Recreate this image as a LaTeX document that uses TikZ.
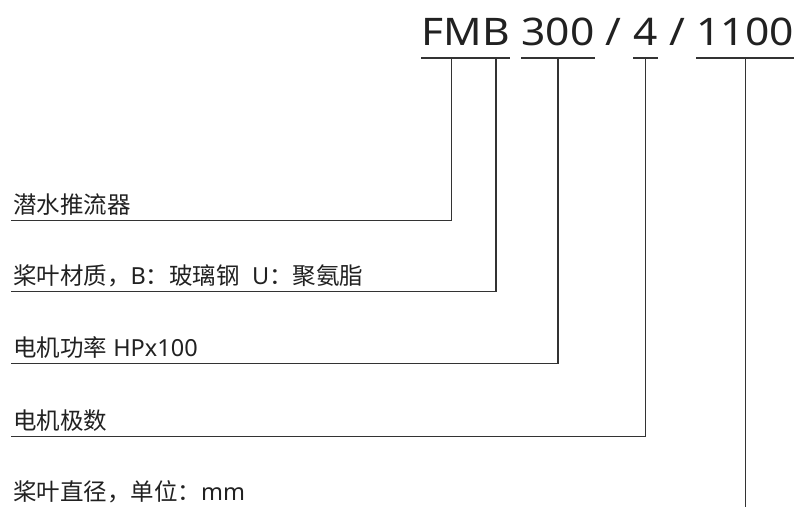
\documentclass[tikz,border=0pt]{standalone}
\usepackage{fontspec}
\setmainfont{Noto Sans}
\newfontfamily\cjk{Noto Sans CJK SC}
\newfontfamily\codefont[FakeStretch=1.12]{Noto Sans}
\usetikzlibrary{arrows.meta, calc, positioning}

\begin{document}
\begin{tikzpicture}[>=Stealth, x=1pt, y=-1pt,
        code/.style={inner sep=0pt, anchor=base west, text=black!87,
            font=\codefont\fontsize{38}{38}\selectfont},
        lbl/.style={inner sep=0pt, anchor=base west, text=black!87,
            font=\fontsize{23.5}{23.5}\selectfont},
        lead/.style={line width=1.3pt, black!80}]
        % --- 定义: 尺寸 ---
        \def\codeY{45}     
        \def\ulDrop{13pt}  
        \def\lineDrop{7.2pt} 
        \def\wsp{11.1pt}   
        \def\lblX{13}

        \useasboundingbox (0,0) rectangle (795,506);

        % --- 型号 (最上段) ---
        \node[code] (FM) at (421,\codeY) {FM};
        \node[code] (B) at (FM.base east) {B};
        \node[code] (P) at ([xshift=\wsp]B.base east) {300};
        \node[code] (SA) at ([xshift=\wsp]P.base east) {/};
        \node[code] (four) at ([xshift=\wsp]SA.base east) {4};
        \node[code] (SB) at ([xshift=\wsp]four.base east) {/};
        \node[code] (D) at ([xshift=\wsp]SB.base east) {1100};

        % 下划线
        \foreach \n in {FM, B, P, four, D}
            \draw[lead] ([yshift=-\ulDrop]\n.base west) -- ([yshift=-\ulDrop]\n.base east);

        % --- 说明 (左侧) ---
        \node[lbl] (L1) at (\lblX,213.5) {\cjk 潜水推流器};
        \node[lbl] (L2) at (\lblX,284.5) {{\cjk 桨叶材质，}B{\cjk ：玻璃钢}\ \ U{\cjk ：聚氨脂}};
        \node[lbl] (L3) at (\lblX,356.5) {{\cjk 电机功率} HPx100};
        \node[lbl] (L4) at (\lblX,429.5) {\cjk 电机极数};
        \node[lbl] (L5) at (\lblX,500.5) {{\cjk 桨叶直径，单位：}mm};

        % --- 引线 ---
        \foreach \l/\n in {L1/FM, L2/B, L3/P, L4/four}
            \draw[lead] ([xshift=-2pt, yshift=-\lineDrop]\l.base west) -| ([yshift=-\ulDrop]\n.base);

        \coordinate (bottomEnd) at (795,512);
        \draw[lead] ([yshift=-\ulDrop]D.base) -- (D.base |- bottomEnd);

    \end{tikzpicture}
\end{document}
